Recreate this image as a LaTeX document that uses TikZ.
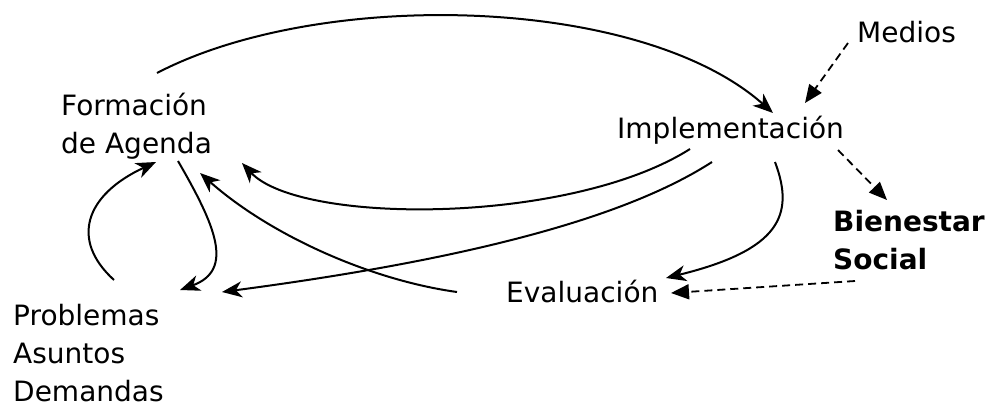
\documentclass[tikz,border=0pt]{standalone}
\usepackage{fontspec}
\setmainfont{DejaVu Sans}
\usetikzlibrary{arrows.meta}
\tikzset{txt/.style={inner sep=0pt, anchor=base west, align=left, font=\fontsize{28}{38}\selectfont},
  flow/.style={line width=2pt, -{Stealth[length=20pt,width=16pt,inset=6pt]}},
  dflow/.style={line width=1.8pt, dash pattern=on 8pt off 5pt, -{Triangle[length=18pt,width=15pt]}}}
\begin{document}
\begin{tikzpicture}[x=1pt,y=-1pt]
  \useasboundingbox (0,0) rectangle (989,408);
  \node[txt] (FA) at (61,153) {Formación\\de Agenda};
  \node[txt] (IM) at (617,138) {Implementación};
  \node[txt] (ME) at (857,42) {Medios};
  \node[txt, font=\fontsize{28}{38}\selectfont\bfseries] (BS) at (833,269) {Bienestar\\Social};
  \node[txt] (EV) at (506,302) {Evaluación};
  \node[txt] (PAD) at (13,401) {Problemas\\Asuntos\\Demandas};

  \draw[flow] ([shift={(96,-80)}]FA.base west) .. controls (320,-12) and (640,-5) .. ([shift={(156,-25)}]IM.base west);
  \draw[dflow] ([shift={(-9,1)}]ME.base west) -- ([shift={(188,-35)}]IM.base west);
  \draw[dflow] ([shift={(221,12)}]IM.base west) -- ([shift={(54,-69)}]BS.base west);
  \draw[dflow] ([shift={(22,12)}]BS.base west) -- ([shift={(165,-9)}]EV.base west);
  \draw[flow] ([shift={(73,11)}]IM.base west) .. controls (570,225) and (300,225) .. ([shift={(181,10)}]FA.base west);
  \draw[flow] ([shift={(95,24)}]IM.base west) .. controls (630,215) and (480,258) .. ([shift={(209,-109)}]PAD.base west);
  \draw[flow] ([shift={(158,24)}]IM.base west) .. controls (795,215) and (780,250) .. ([shift={(160,-24)}]EV.base west);
  \draw[flow] ([shift={(-49,-10)}]EV.base west) .. controls (370,280) and (270,235) .. ([shift={(139,20)}]FA.base west);
  \draw[flow] ([shift={(117,8)}]FA.base west) .. controls (215,225) and (235,270) .. ([shift={(167,-111)}]PAD.base west);
  \draw[flow] ([shift={(101,-121)}]PAD.base west) .. controls (70,240) and (85,195) .. ([shift={(95,9)}]FA.base west);
\end{tikzpicture}
\end{document}
